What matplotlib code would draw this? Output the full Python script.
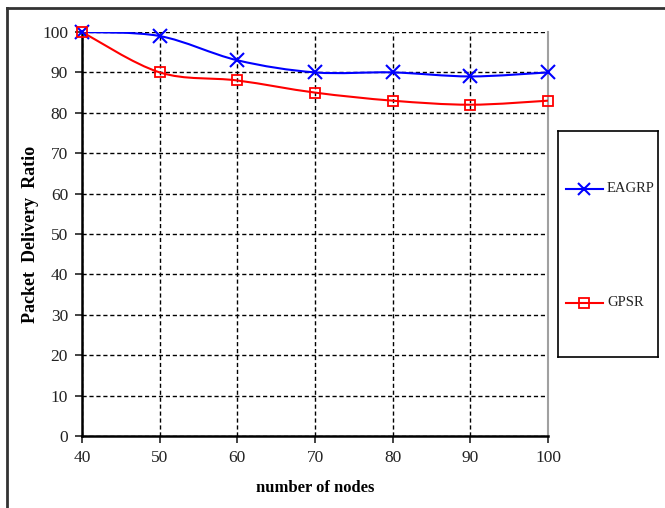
import matplotlib
matplotlib.use("Agg")
import matplotlib.pyplot as plt
import numpy as np
from matplotlib.path import Path
from matplotlib.patches import PathPatch
from matplotlib.lines import Line2D

plt.rcParams['font.family'] = ['Liberation Serif', 'DejaVu Serif']

nodes = [40, 50, 60, 70, 80, 90, 100]
eagrp = [100, 99, 93, 90, 90, 89, 90]
gpsr = [100, 90, 88, 85, 83, 82, 83]
y_ticks = [0, 10, 20, 30, 40, 50, 60, 70, 80, 90, 100]


def smooth_path(x, y, tension=0.5):
    # excel-like smoothed line: cardinal spline as cubic beziers
    x = np.asarray(x, float)
    y = np.asarray(y, float)
    verts = [(x[0], y[0])]
    codes = [Path.MOVETO]
    n = len(x)
    for i in range(n - 1):
        i0 = max(i - 1, 0)
        i3 = min(i + 2, n - 1)
        c1 = (x[i] + (x[i + 1] - x[i0]) * tension / 3, y[i] + (y[i + 1] - y[i0]) * tension / 3)
        c2 = (x[i + 1] - (x[i3] - x[i]) * tension / 3, y[i + 1] - (y[i3] - y[i]) * tension / 3)
        verts += [c1, c2, (x[i + 1], y[i + 1])]
        codes += [Path.CURVE4] * 3
    return Path(verts, codes)


fig = plt.figure(figsize=(6.65, 5.08), dpi=100)
ax = fig.add_axes([82 / 665, 1 - 436 / 508, (548 - 82) / 665, (436 - 32) / 508])

ax.add_patch(PathPatch(smooth_path(nodes, eagrp), fill=False, edgecolor='#0000ff', lw=1.5, zorder=3))
ax.add_patch(PathPatch(smooth_path(nodes, gpsr), fill=False, edgecolor='#ff0000', lw=1.5, zorder=3))
ax.plot(nodes, eagrp, ls='none', marker='x', ms=10, mew=1.5, color='#0000ff', zorder=4, clip_on=False)
ax.plot(nodes, gpsr, ls='none', marker='s', ms=7, mew=1.3, mfc='none', color='#ff0000', zorder=4, clip_on=False)

ax.set_xlim(40, 100)
ax.set_ylim(0, 100)
ax.set_xticks(nodes)
ax.set_yticks(y_ticks)
ax.grid(True, color='black', ls=(0, (3, 2)), lw=1.0)
ax.set_axisbelow(True)
ax.spines['top'].set_visible(False)
ax.spines['right'].set_color('#a0a0a0')
ax.spines['right'].set_linewidth(1.5)
ax.spines['left'].set_linewidth(1.8)
ax.spines['bottom'].set_linewidth(1.8)
ax.tick_params(direction='out', length=5, width=1.2, labelsize=12.5, colors='#222222', pad=5)

ax.set_xlabel('number of nodes', fontsize=12, fontweight='bold', labelpad=10)
ax.set_ylabel('Packet  Delivery  Ratio', fontsize=13, fontweight='bold', labelpad=2)

# legend box
lax = fig.add_axes([558 / 665, 1 - 357 / 508, 100 / 665, 226 / 508])
lax.set_xlim(0, 1)
lax.set_ylim(0, 1)
lax.set_xticks([])
lax.set_yticks([])
for s in lax.spines.values():
    s.set_linewidth(1.2)
lax.add_line(Line2D([0.08, 0.45], [0.745, 0.745], color='#0000ff', lw=1.5))
lax.plot([0.26], [0.745], marker='x', ms=8, mew=1.5, color='#0000ff')
lax.add_line(Line2D([0.08, 0.45], [0.24, 0.24], color='#ff0000', lw=1.5))
lax.plot([0.26], [0.24], marker='s', ms=7, mew=1.3, mfc='none', color='#ff0000')
lax.text(0.49, 0.745, 'EAGRP', va='center', ha='left', fontsize=10.5, color='#222222')
lax.text(0.49, 0.24, 'GPSR', va='center', ha='left', fontsize=10.5, color='#222222')

# outer frame of the chart area
fig.add_artist(Line2D([7 / 665, 7 / 665], [0, 1 - 8 / 508], color='#333333', lw=2))
fig.add_artist(Line2D([7 / 665, 1], [1 - 8 / 508, 1 - 8 / 508], color='#333333', lw=2))

fig.savefig('out.png', dpi=100)
